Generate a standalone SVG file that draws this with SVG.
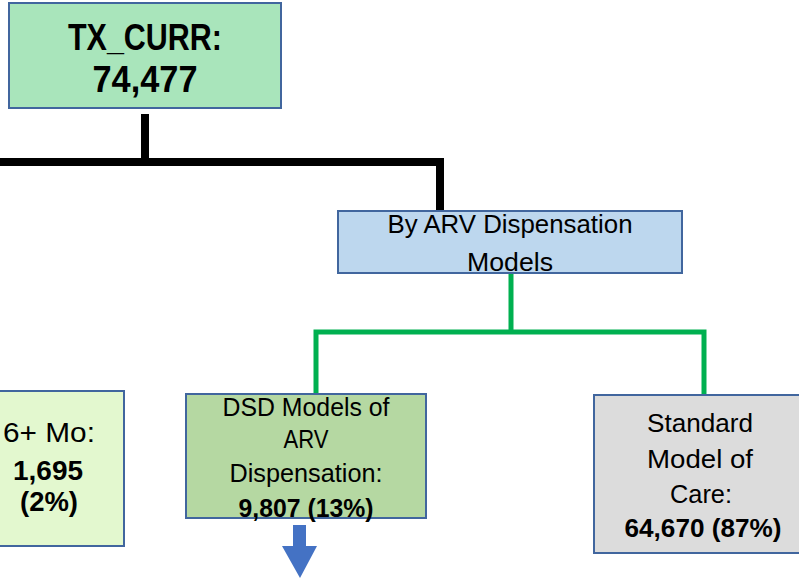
<svg xmlns="http://www.w3.org/2000/svg" width="799" height="578" viewBox="0 0 799 578">
<style>
.box{stroke:#41669E;stroke-width:2}
text{font-family:"Liberation Sans",Arial,sans-serif;fill:#000;text-anchor:middle}
.r{font-size:25px}
.b{font-size:25px;font-weight:bold}
.m{font-size:28px}
.mb{font-size:27px;font-weight:bold}
.t{font-size:37px;font-weight:bold}
.k{stroke:#000;stroke-width:8;fill:none}
.g{stroke:#00B050;stroke-width:5;fill:none}
</style>
<g id="connectors">
<path class="k" d="M145 114V166M0 162H444M440 158V212"/>
<path class="g" d="M511 273V332M316 395V332H704V395"/>
<path d="M293 525H306V546H317L300 578L282 546H293Z" fill="#4472C4"/>
</g>
<g id="tx_curr">
<rect class="box" x="9" y="3" width="272" height="105" fill="#A9E5BB"/>
<text class="t" x="145" y="50" textLength="154" lengthAdjust="spacingAndGlyphs">TX_CURR:</text>
<text class="t" x="145" y="92" textLength="105" lengthAdjust="spacingAndGlyphs">74,477</text>
</g>
<g id="arv">
<rect class="box" x="338" y="211" width="344" height="62" fill="#BDD7EE"/>
<text class="r" x="510" y="233" textLength="245" lengthAdjust="spacingAndGlyphs">By ARV Dispensation</text>
<text class="r" x="510" y="271" textLength="86" lengthAdjust="spacingAndGlyphs">Models</text>
</g>
<g id="six_mo">
<rect class="box" x="-2" y="391" width="126" height="155" fill="#E3F8CF"/>
<text class="m" x="49" y="442" textLength="92" lengthAdjust="spacingAndGlyphs">6+ Mo:</text>
<text class="mb" x="48" y="480" textLength="70" lengthAdjust="spacingAndGlyphs">1,695</text>
<text class="mb" x="49" y="511" textLength="58" lengthAdjust="spacingAndGlyphs">(2%)</text>
</g>
<g id="dsd">
<rect class="box" x="186" y="394" width="240" height="124" fill="#B5D8A2"/>
<text class="r" x="306" y="416" textLength="167" lengthAdjust="spacingAndGlyphs">DSD Models of</text>
<text class="r" x="306" y="448" textLength="45" lengthAdjust="spacingAndGlyphs">ARV</text>
<text class="r" x="306" y="482" textLength="153" lengthAdjust="spacingAndGlyphs">Dispensation:</text>
<text class="b" x="306" y="517" textLength="135" lengthAdjust="spacingAndGlyphs">9,807 (13%)</text>
</g>
<g id="standard">
<rect class="box" x="594" y="395" width="210" height="158" fill="#DCDCDC"/>
<text class="r" x="700" y="432" textLength="106" lengthAdjust="spacingAndGlyphs">Standard</text>
<text class="r" x="700" y="468" textLength="106" lengthAdjust="spacingAndGlyphs">Model of</text>
<text class="r" x="701" y="503" textLength="62" lengthAdjust="spacingAndGlyphs">Care:</text>
<text class="b" x="703" y="537" textLength="157" lengthAdjust="spacingAndGlyphs">64,670 (87%)</text>
</g>
</svg>
